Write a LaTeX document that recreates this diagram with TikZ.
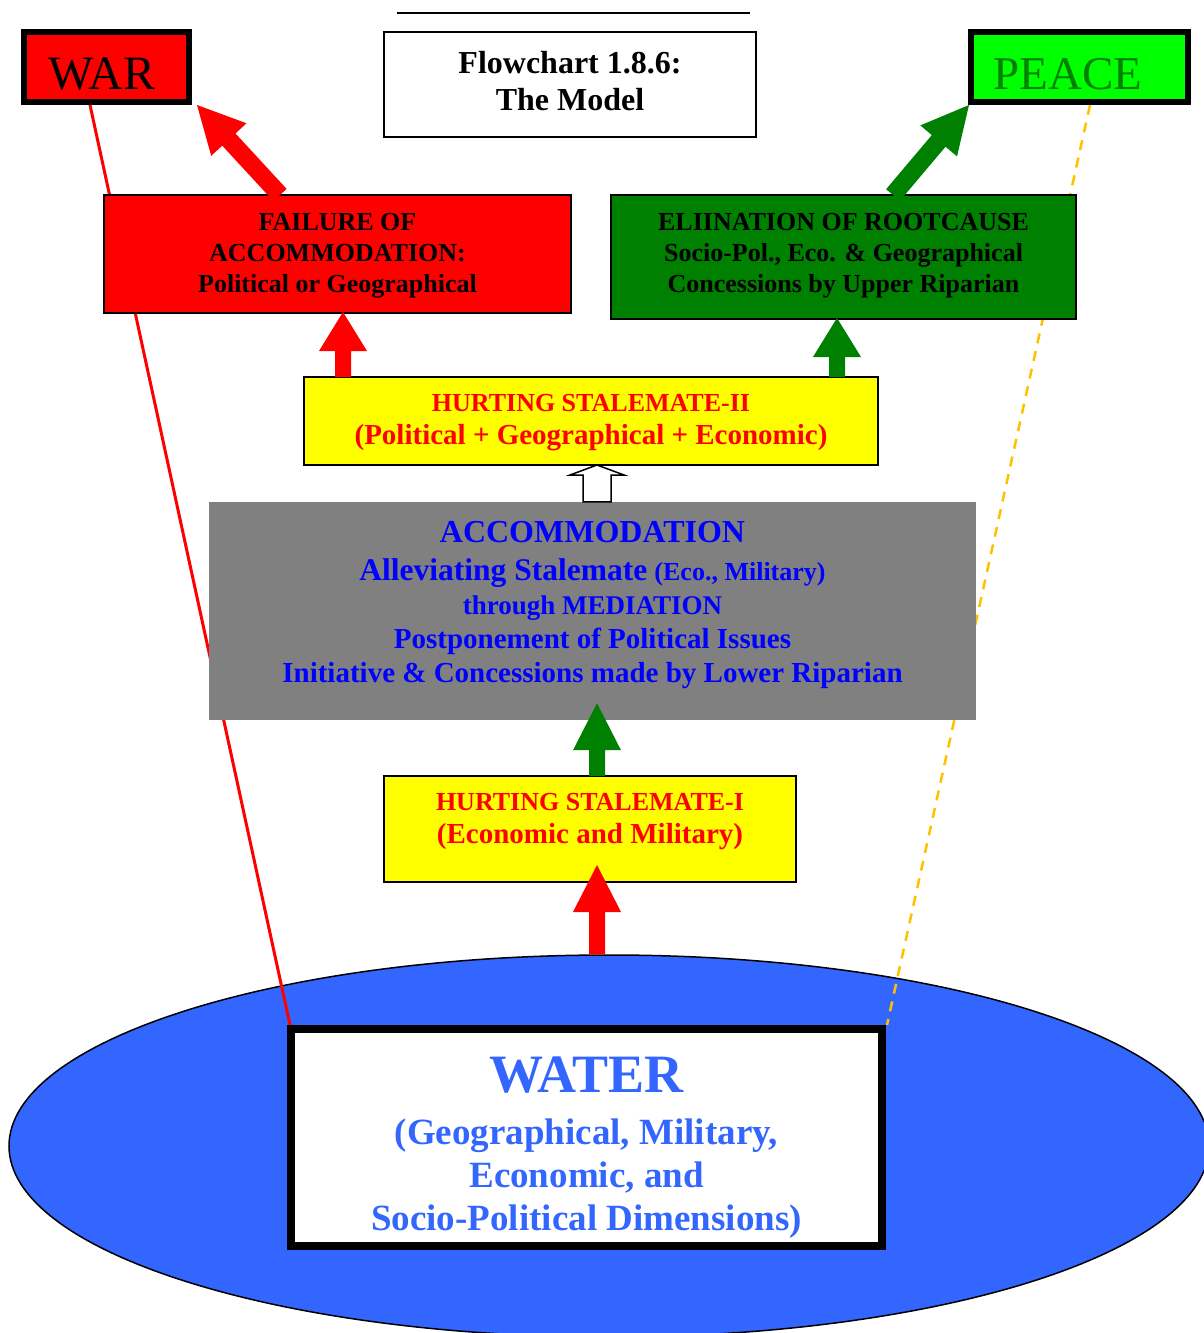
\documentclass[tikz,border=0pt]{standalone}
\usepackage{fontspec}
\setmainfont{Liberation Serif}
\usetikzlibrary{calc,shapes.geometric}
\definecolor{wred}{RGB}{255,0,0}
\definecolor{dgreen}{RGB}{0,128,0}
\definecolor{lime}{RGB}{0,255,0}
\definecolor{hyellow}{RGB}{255,255,0}
\definecolor{agray}{RGB}{128,128,128}
\definecolor{tblue}{RGB}{0,0,255}
\definecolor{wblue}{RGB}{51,102,255}
\definecolor{dashy}{RGB}{255,192,0}
\pgfdeclarelayer{bg}
\pgfdeclarelayer{lines}
\pgfsetlayers{bg,lines,main}
\newcommand\fatarr[6]{%
  \path (#2) coordinate (fas) (#3) coordinate (fat);
  \path ($(fat)!#6!(fas)$) coordinate (fah);
  \path[#1] ($(fas)!#4!90:(fat)$) -- ($(fah)!#4!90:(fat)$) -- ($(fah)!#5!90:(fat)$) -- (fat)
    -- ($(fah)!#5!-90:(fat)$) -- ($(fah)!#4!-90:(fat)$) -- ($(fas)!#4!-90:(fat)$) -- cycle;}
\tikzset{
  box/.style={draw=black, line width=2pt, inner sep=0pt, outer sep=0pt},
  txt/.style={align=center, inner sep=0pt, outer sep=0pt},
  redfill/.style={fill=wred},
  greenfill/.style={fill=dgreen},
  hollow/.style={draw=black, line width=1.5pt, fill=white},
}
\begin{document}
\begin{tikzpicture}[x=1pt,y=-1pt]
\useasboundingbox (0,0) rectangle (1204,1333);
\clip (0,0) rectangle (1204,1333);

% water lake
\begin{pgfonlayer}{bg}
\node[ellipse, draw=black, line width=1.5pt, fill=wblue, inner sep=0pt,
      minimum width=1200pt, minimum height=382pt] (lake) at (609,1146) {};
\end{pgfonlayer}

% header line
\draw[line width=2pt] (397,13) -- (750,13);

% boxes
\node[box, line width=6pt, fill=wred, minimum width=165pt, minimum height=70pt] (war) at (106.5,67) {};
\node[box, line width=6pt, fill=lime, minimum width=217pt, minimum height=70pt] (peace) at (1079.5,67) {};
\node[box, fill=white, minimum width=372pt, minimum height=105pt] (title) at (570,84.5) {};
\node[box, fill=wred, minimum width=467pt, minimum height=118pt] (fail) at (337.5,254) {};
\node[box, fill=dgreen, minimum width=465pt, minimum height=124pt] (elim) at (843.5,257) {};
\node[box, fill=hyellow, minimum width=574pt, minimum height=88pt] (hs2) at (591,421) {};
\node[fill=agray, inner sep=0pt, minimum width=767pt, minimum height=218pt] (accom) at (592.5,611) {};
\node[box, fill=hyellow, minimum width=412pt, minimum height=106pt] (hs1) at (590,829) {};
\node[box, line width=8pt, fill=white, minimum width=591pt, minimum height=217pt] (water) at (586.5,1137.5) {};

% thin connectors behind boxes
\begin{pgfonlayer}{lines}
\draw[wred, line width=3pt] ([xshift=-16.5pt,yshift=-3pt]war.south) -- ([shift={(-1pt,4pt)}]water.north west);
\draw[dashy, line width=2.5pt, dash pattern=on 10pt off 8pt] ([xshift=10.5pt,yshift=-3pt]peace.south) -- ([shift={(5pt,4pt)}]water.north east);
\end{pgfonlayer}

% arrow anchor coordinates
\coordinate (axis) at (597,0);
\coordinate (a1s) at (axis |- lake.north);
\coordinate (a1t) at ($(axis |- hs1.south)+(0,-17)$);
\coordinate (a2s) at (axis |- hs1.north);
\coordinate (a2t) at ($(axis |- accom.south)+(0,-17)$);
\coordinate (a3s) at (axis |- accom.north);
\coordinate (a3t) at (axis |- hs2.south);
\coordinate (a4s) at ($(hs2.north west)+(39,0)$);
\coordinate (a4t) at ($(a4s |- fail.south)+(0,-1)$);
\coordinate (a5s) at ($(hs2.north east)+(-41,0)$);
\coordinate (a5t) at ($(a5s |- elim.south)+(0,-1)$);
\coordinate (a6s) at ($(fail.north west)+(176,0)$);
\coordinate (a6t) at ($(war.south east)+(8,3)$);
\coordinate (a7s) at ($(elim.north west)+(282,0)$);
\coordinate (a7t) at ($(peace.south west)+(-2,3)$);

\fatarr{redfill}{a1s}{a1t}{8pt}{24pt}{47pt}
\fatarr{greenfill}{a2s}{a2t}{8pt}{24pt}{47pt}
\fatarr{hollow}{a3s}{a3t}{14pt}{27pt}{10pt}
\fatarr{redfill}{a4s}{a4t}{8pt}{24pt}{39pt}
\fatarr{greenfill}{a5s}{a5t}{8pt}{24pt}{39pt}
\fatarr{redfill}{a6s}{a6t}{9pt}{24pt}{47pt}
\fatarr{greenfill}{a7s}{a7t}{9pt}{24pt}{47pt}

% texts
\node[txt, font=\fontsize{48}{50}\selectfont] (wartext) at (102,74) {WAR};
\node[txt, text=dgreen, font=\fontsize{47}{50}\selectfont] (peacetext) at (1068,74) {PEACE};
\node[txt, font=\fontsize{32}{37}\selectfont\bfseries] (titletext) at (570,81) {Flowchart 1.8.6:\\The Model};
\node[txt, font=\fontsize{26}{31}\selectfont\bfseries] (failtext) at (337.5,255.5)
  {FAILURE OF\\ACCOMMODATION:\\Political or Geographical};
\node[txt, font=\fontsize{26}{31}\selectfont\bfseries] (elimtext) at (843.5,255.5)
  {ELIINATION OF ROOTCAUSE\\Socio-Pol., Eco. \& Geographical\\Concessions by Upper Riparian};
\node[txt, text=wred, font=\fontsize{29}{33}\selectfont\bfseries] (hs2text) at (591,423)
  {{\fontsize{26}{33}\selectfont HURTING STALEMATE-II}\\(Political + Geographical + Economic)};
\node[txt, text=tblue, font=\fontsize{29}{34}\selectfont\bfseries] (accomtext) at (592.5,605)
  {{\fontsize{32}{34}\selectfont ACCOMMODATION}\\[4pt]
   {\fontsize{31.5}{34}\selectfont Alleviating Stalemate} {\fontsize{26}{34}\selectfont (Eco., Military)}\\
   {\fontsize{27}{34}\selectfont through MEDIATION}\\
   Postponement of Political Issues\\
   Initiative \& Concessions made by Lower Riparian};
\node[txt, text=wred, font=\fontsize{29}{33}\selectfont\bfseries] (hs1text) at (590,822)
  {{\fontsize{26}{33}\selectfont HURTING STALEMATE-I}\\(Economic and Military)};
\node[txt, text=wblue, font=\fontsize{37}{43}\selectfont\bfseries] (watertext) at (586.5,1148)
  {{\fontsize{54}{43}\selectfont WATER}\\[9pt](Geographical, Military,\\Economic, and\\Socio-Political Dimensions)};
\end{tikzpicture}
\end{document}
